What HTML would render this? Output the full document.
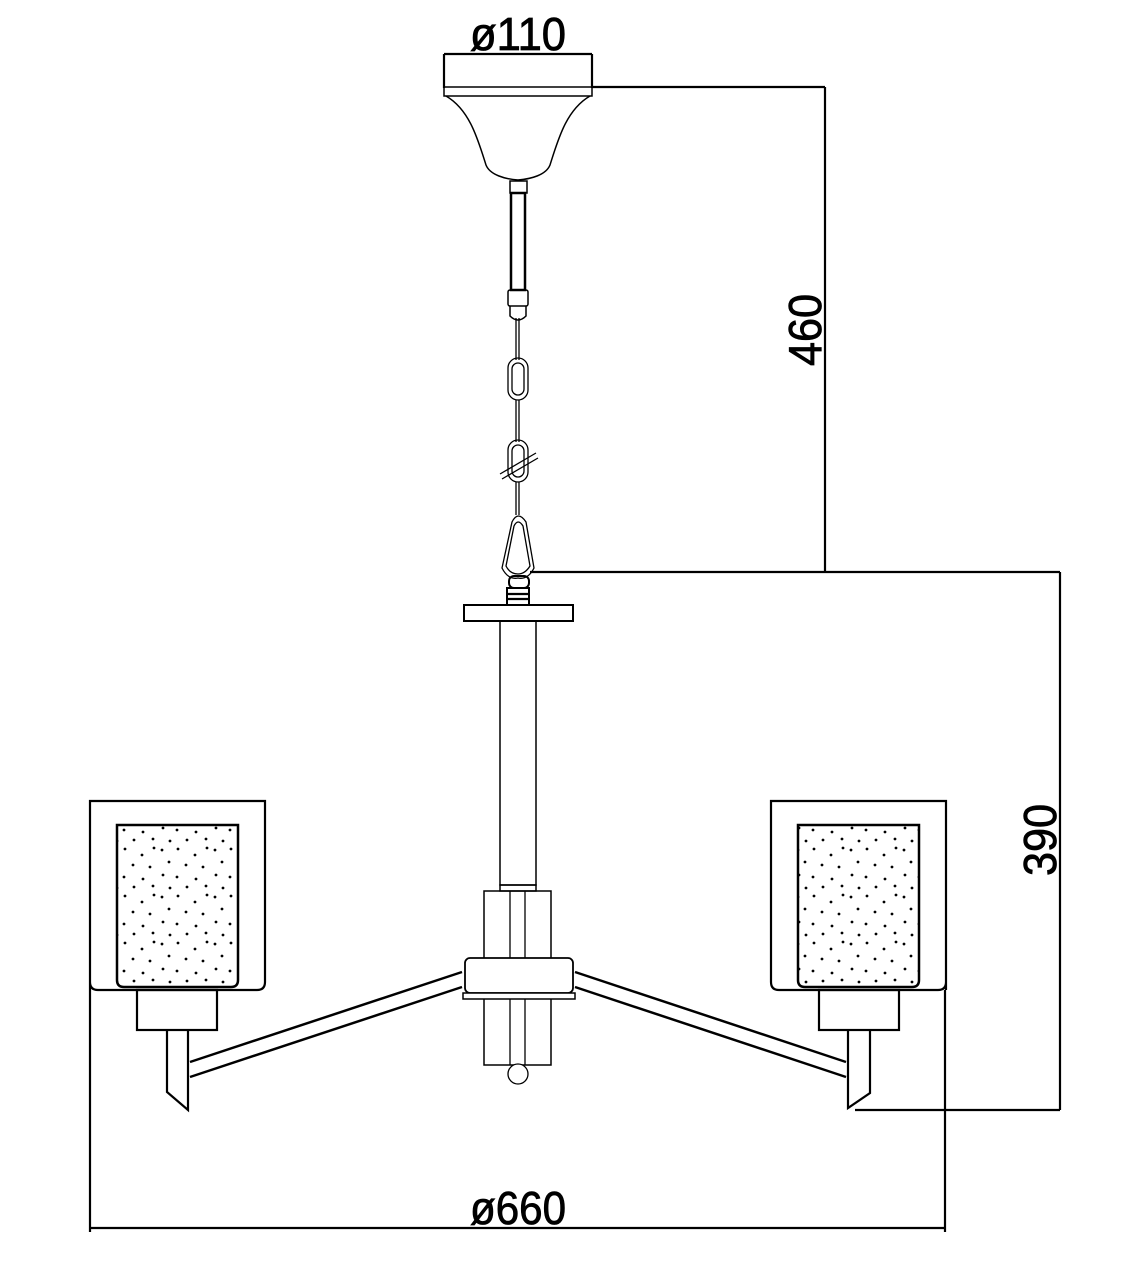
<!DOCTYPE html>
<html><head><meta charset="utf-8"><style>html,body{margin:0;padding:0;background:#fff}svg{display:block}</style></head>
<body>
<svg width="1136" height="1280" viewBox="0 0 1136 1280" xmlns="http://www.w3.org/2000/svg" fill="none" stroke="#000">
<defs>
<pattern id="dp" width="53" height="47" patternUnits="userSpaceOnUse">
<g fill="#000" stroke="none">
<circle cx="3" cy="4" r="1.4"/><circle cx="19" cy="3" r="1.4"/><circle cx="36" cy="9" r="1.4"/><circle cx="48" cy="2" r="1.4"/>
<circle cx="10" cy="16" r="1.4"/><circle cx="27" cy="19" r="1.4"/><circle cx="44" cy="21" r="1.4"/>
<circle cx="4" cy="29" r="1.4"/><circle cx="18" cy="31" r="1.4"/><circle cx="37" cy="33" r="1.4"/>
<circle cx="11" cy="42" r="1.4"/><circle cx="28" cy="41" r="1.4"/><circle cx="47" cy="40" r="1.4"/>
</g>
</pattern>
</defs>
<g stroke-width="2.2">
<line x1="444" y1="54" x2="592" y2="54"/>
<line x1="444" y1="54" x2="444" y2="88"/><line x1="592" y1="54" x2="592" y2="88"/>
<rect x="444" y="87" width="148" height="9" stroke-width="1.5"/>
<path d="M446 96 C470 110 478 140 486 165 C490 175 505 179 518 180 C531 179 546 175 550 165 C558 140 566 110 590 96" stroke-width="1.5"/>
<rect x="510" y="181" width="17" height="12" stroke-width="1.5"/>
<rect x="511" y="193" width="14" height="97" stroke-width="2.5"/>
<rect x="508" y="290" width="20" height="16" rx="2" stroke-width="1.5"/>
<path d="M510 306 L510 316 Q518 324 526 316 L526 306" stroke-width="1.5"/>
<g stroke-width="1.3">
<line x1="516" y1="318" x2="516" y2="360"/><line x1="519" y1="318" x2="519" y2="360"/>
<rect x="508" y="358" width="20" height="42" rx="10"/><rect x="512" y="363" width="12" height="32" rx="6"/>
<line x1="516" y1="400" x2="516" y2="442"/><line x1="519" y1="400" x2="519" y2="442"/>
<rect x="508" y="440" width="20" height="42" rx="10"/><rect x="512" y="445" width="12" height="32" rx="6"/>
<line x1="500" y1="474" x2="536" y2="453"/><line x1="502" y1="479" x2="538" y2="458"/>
<line x1="516" y1="482" x2="516" y2="515"/><line x1="519" y1="482" x2="519" y2="515"/>
<path d="M512 522 Q518 510 526 522 L534 568 Q528 580 518 578 Q508 580 502 568 Z"/>
<path d="M514 526 Q518 518 523 526 L530 566 Q525 574 518 574 Q510 574 506 566 Z"/>
</g>
<rect x="509" y="576" width="20" height="12" rx="5" stroke-width="2"/>
<rect x="507" y="588" width="22" height="17" stroke-width="2"/>
<line x1="507" y1="594" x2="529" y2="594"/><line x1="507" y1="599" x2="529" y2="599"/>
<rect x="464" y="605" width="109" height="16" stroke-width="2"/>
<rect x="500" y="621" width="36" height="264" stroke-width="1.5"/>
<rect x="500" y="885" width="36" height="6" stroke-width="1.5"/>
<rect x="484" y="891" width="67" height="174" stroke-width="1.5"/>
<line x1="510" y1="891" x2="510" y2="1065" stroke-width="1.3"/><line x1="525" y1="891" x2="525" y2="1065" stroke-width="1.3"/>
<circle cx="518" cy="1074" r="10" stroke-width="1.3" fill="#fff"/>
<rect x="465" y="958" width="108" height="35" rx="5" stroke-width="1.8" fill="#fff"/>
<rect x="463" y="993" width="112" height="6" stroke-width="1.5" fill="#fff"/>
<path d="M90 990 V801 H265 V982 Q265 990 257 990 H98 Q90 990 90 982" />
<path d="M117 825 H238 V980 Q238 987 231 987 H124 Q117 987 117 980 Z" stroke-width="2.5" fill="url(#dp)"/>
<rect x="137" y="990" width="80" height="40"/>
<path d="M167 1030 V1092 L188 1110 V1030"/>
<line x1="190" y1="1062" x2="462" y2="972" stroke-width="2.5"/>
<line x1="190" y1="1077" x2="462" y2="987" stroke-width="2.5"/>
<path d="M946 990 V801 H771 V982 Q771 990 779 990 H938 Q946 990 946 982" />
<path d="M919 825 H798 V980 Q798 987 805 987 H912 Q919 987 919 980 Z" stroke-width="2.5" fill="url(#dp)"/>
<rect x="819" y="990" width="80" height="40"/>
<path d="M870 1030 V1093 L848 1108 V1030"/>
<line x1="846" y1="1062" x2="575" y2="972" stroke-width="2.5"/>
<line x1="846" y1="1077" x2="575" y2="987" stroke-width="2.5"/>
<line x1="592" y1="87" x2="825" y2="87"/>
<line x1="825" y1="87" x2="825" y2="572"/>
<line x1="530" y1="572" x2="1060" y2="572"/>
<line x1="1060" y1="572" x2="1060" y2="1110"/>
<line x1="855" y1="1110" x2="1060" y2="1110"/>
<line x1="90" y1="990" x2="90" y2="1232"/>
<line x1="945" y1="990" x2="945" y2="1232"/>
<line x1="90" y1="1228" x2="945" y2="1228"/>
</g>
<g fill="#000" stroke="#000" stroke-width="0.8" font-family="Liberation Sans, sans-serif" font-size="46" text-anchor="middle">
<text x="518" y="50" textLength="96" lengthAdjust="spacingAndGlyphs">ø110</text>
<text x="518" y="1224" textLength="96" lengthAdjust="spacingAndGlyphs">ø660</text>
<text transform="translate(821,330) rotate(-90)" textLength="72" lengthAdjust="spacingAndGlyphs">460</text>
<text transform="translate(1056,840) rotate(-90)" textLength="72" lengthAdjust="spacingAndGlyphs">390</text>
</g>
</svg>
</body></html>
